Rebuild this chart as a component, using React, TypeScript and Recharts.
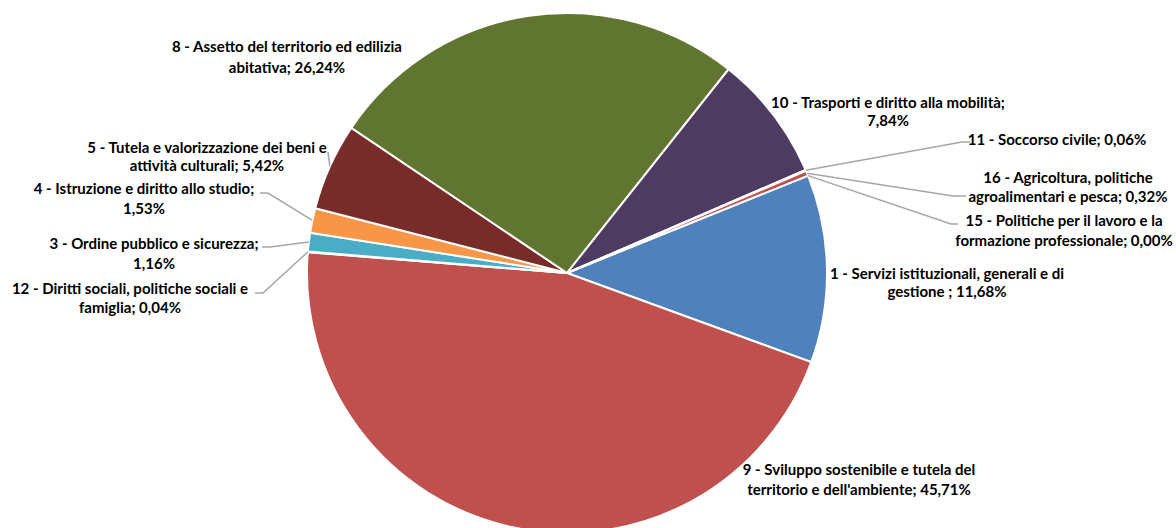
import { Cell, Pie, PieChart } from "recharts";

// Missions, in the order the slices run clockwise
const MISSIONS = [
  "1 - Servizi istituzionali, generali e di gestione ",
  "9 - Sviluppo sostenibile e tutela del territorio e dell'ambiente",
  "12 - Diritti sociali, politiche sociali e famiglia",
  "3 - Ordine pubblico e sicurezza",
  "4 - Istruzione e diritto allo studio",
  "5 - Tutela e valorizzazione dei beni e attività culturali",
  "8 - Assetto del territorio ed edilizia abitativa",
  "10 - Trasporti e diritto alla mobilità",
  "11 - Soccorso civile",
  "16 - Agricoltura, politiche agroalimentari e pesca",
  "15 - Politiche per il lavoro e la formazione professionale",
];

const SHARES = [11.68, 45.71, 0.04, 1.16, 1.53, 5.42, 26.24, 7.84, 0.06, 0.32, 0.0];

const COLORS = [
  "#4f81bd",
  "#c0504d",
  "#9bbb59",
  "#4bacc6",
  "#f79646",
  "#772c2a",
  "#5f7530",
  "#4d3b62",
  "#276a7c",
  "#c0504d",
  "#729aca",
];

const data = MISSIONS.map((name, i) => ({ name, value: SHARES[i] }));

// label placement: text centre, words on first line, line gap, optional leader elbow/tail
type LabelPos = {
  x: number;
  y: number;
  words: number;
  gap: number;
  elbow?: [number, number];
  tail?: [number, number];
};

const LABEL_POS: LabelPos[] = [
  { x: 947, y: 273, words: 7, gap: 18 },
  { x: 859, y: 469, words: 7, gap: 20 },
  { x: 130, y: 288, words: 7, gap: 19, elbow: [263, 293], tail: [255, 293] },
  { x: 154, y: 243, words: 6, gap: 20, elbow: [270, 247], tail: [262, 247] },
  { x: 144, y: 188, words: 7, gap: 20, elbow: [268, 193], tail: [260, 193] },
  { x: 207, y: 147, words: 8, gap: 18, elbow: [328, 152] },
  { x: 287, y: 46, words: 7, gap: 21 },
  { x: 888, y: 102, words: 7, gap: 18 },
  { x: 1057, y: 139, words: 99, gap: 0, elbow: [962, 142], tail: [970, 142] },
  { x: 1068, y: 177, words: 4, gap: 19, elbow: [953, 196], tail: [966, 196] },
  { x: 1064, y: 220, words: 8, gap: 20, elbow: [951, 224], tail: [958, 224] },
];

const RADIAN = Math.PI / 180;

const renderLabel = (props: any) => {
  const { cx, cy, midAngle, outerRadius, index, name, value } = props;
  const pos = LABEL_POS[index];
  const text = `${name}; ${value.toFixed(2).replace(".", ",")}%`;
  const words = text.split(" ");
  const line1 = words.slice(0, pos.words).join(" ");
  const line2 = words.slice(pos.words).join(" ");

  let leader = null;
  if (pos.elbow) {
    const sx = cx + outerRadius * Math.cos(-midAngle * RADIAN);
    const sy = cy + outerRadius * Math.sin(-midAngle * RADIAN);
    const pts = [[sx, sy], pos.elbow];
    if (pos.tail) pts.push(pos.tail);
    leader = (
      <polyline
        points={pts.map((p) => p.join(",")).join(" ")}
        fill="none"
        stroke="#a6a6a6"
        strokeWidth={1.5}
      />
    );
  }

  return (
    <g key={`lbl-${index}`}>
      {leader}
      <text
        x={pos.x}
        y={pos.y}
        textAnchor="middle"
        dominantBaseline="central"
        fill="#000"
        fontFamily="Lato, sans-serif"
        fontWeight="bold"
        fontSize={15}
      >
        <tspan x={pos.x} y={pos.y}>{line1}</tspan>
        {line2 && (
          <tspan x={pos.x} y={pos.y + pos.gap}>{line2}</tspan>
        )}
      </text>
    </g>
  );
};

export default function App() {
  return (
    <div
      style={{
        position: "absolute",
        left: 0,
        top: 0,
        width: 1176,
        height: 528,
        background: "#fff",
        overflow: "hidden",
      }}
    >
      <PieChart width={1176} height={528} margin={{ top: 0, right: 0, bottom: 0, left: 0 }}>
        <Pie
          data={data}
          dataKey="value"
          nameKey="name"
          cx={567}
          cy={273}
          outerRadius={260}
          startAngle={22}
          endAngle={-338}
          stroke="#fff"
          strokeWidth={2}
          label={renderLabel}
          labelLine={false}
          isAnimationActive={false}
        >
          {data.map((d, i) => (
            <Cell key={d.name} fill={COLORS[i]} />
          ))}
        </Pie>
      </PieChart>
    </div>
  );
}
